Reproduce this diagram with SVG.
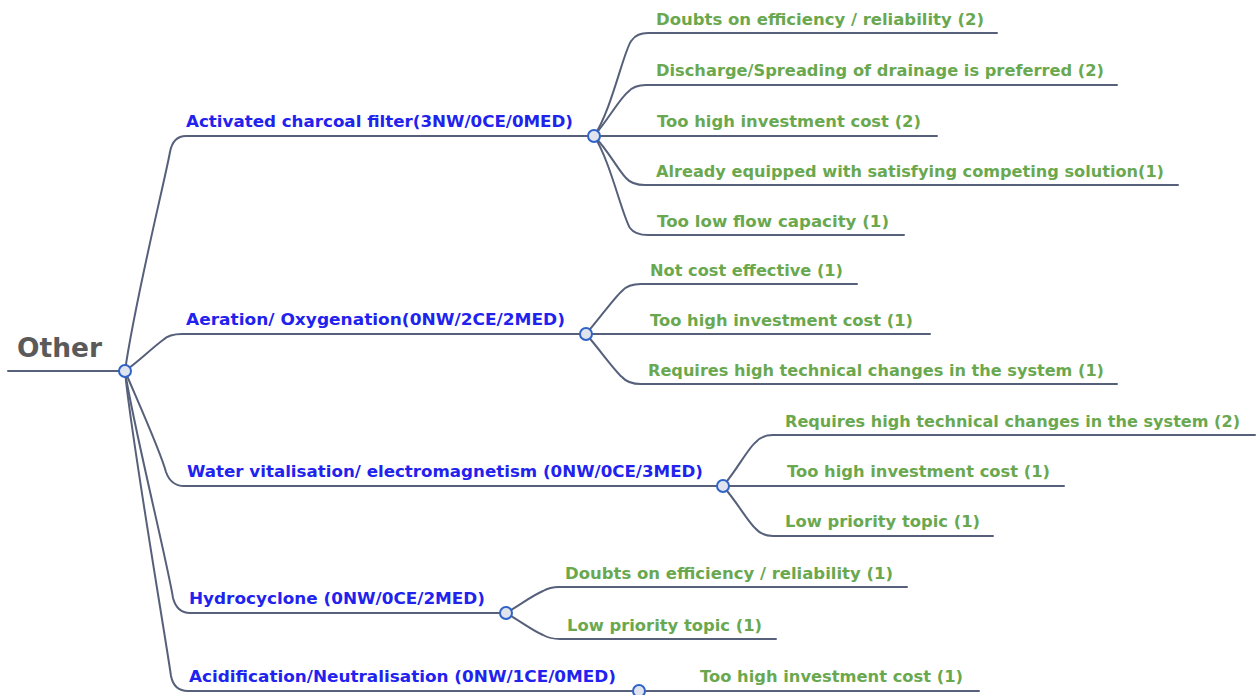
<svg xmlns="http://www.w3.org/2000/svg" width="1257" height="695" viewBox="0 0 1257 695">
  <style>
    .link { fill: none; stroke: #56607a; stroke-width: 2; stroke-linecap: round; }
    .hub { fill: #dfe4ee; stroke: #2f63c8; stroke-width: 2; }
    .root { font-family: "DejaVu Sans", Verdana, sans-serif; font-weight: bold; font-size: 26px; fill: #5a5a5a; }
    .topic { font-family: "DejaVu Sans", Verdana, sans-serif; font-weight: bold; font-size: 15px; fill: #2222ee; }
    .leaf { font-family: "DejaVu Sans", Verdana, sans-serif; font-weight: bold; font-size: 15px; fill: #6aa84f; }
  </style>
  <rect width="1257" height="695" fill="#ffffff"/>

  <!-- connectors -->
  <g id="connectors">
    <!-- root underline -->
    <path class="link" d="M8,371 L125,371"/>
    <!-- root to main topics -->
    <path class="link" d="M125,371 C135,300 165,180 170,152 Q173,136 186,136 L594,136"/>
    <path class="link" d="M125,371 C138,362 152,348 163,340 Q169,334 182,334 L586,334"/>
    <path class="link" d="M125,371 C135,395 160,450 166,472 Q171,486 184,486 L723,486"/>
    <path class="link" d="M125,371 C132,420 168,565 173,598 Q177,613 190,613 L506,613"/>
    <path class="link" d="M125,371 C130,430 166,640 171,676 Q174,691 188,691 L639,691"/>

    <!-- Activated charcoal filter children -->
    <path class="link" d="M594,136 C612,110 625,45 632,40 Q637,33 648,33 L997,33"/>
    <path class="link" d="M594,136 C608,120 620,98 628,92 Q634,85 646,85 L1117,85"/>
    <path class="link" d="M594,136 L937,136"/>
    <path class="link" d="M594,136 C608,150 618,170 626,178 Q632,185 645,185 L1178,185"/>
    <path class="link" d="M594,136 C610,160 622,215 630,228 Q635,235 648,235 L904,235"/>

    <!-- Aeration / Oxygenation children -->
    <path class="link" d="M586,334 C600,318 614,298 622,291 Q628,284 641,284 L857,284"/>
    <path class="link" d="M586,334 L930,334"/>
    <path class="link" d="M586,334 C600,350 614,370 622,377 Q628,384 641,384 L1117,384"/>

    <!-- Water vitalisation children -->
    <path class="link" d="M723,486 C737,470 748,448 756,442 Q762,435 773,435 L1255,435"/>
    <path class="link" d="M723,486 L1064,486"/>
    <path class="link" d="M723,486 C737,502 748,522 756,529 Q762,536 773,536 L993,536"/>

    <!-- Hydrocyclone children -->
    <path class="link" d="M506,613 C520,605 533,595 543,591 Q550,587 559,587 L907,587"/>
    <path class="link" d="M506,613 C520,621 533,631 543,635 Q550,639 560,639 L776,639"/>

    <!-- Acidification child -->
    <path class="link" d="M639,691 L979,691"/>
  </g>

  <!-- central topic -->
  <g id="node-root">
    <text class="root" x="17" y="357" textLength="85" lengthAdjust="spacingAndGlyphs">Other</text>
    <circle class="hub" cx="125" cy="371" r="6"/>
  </g>

  <!-- main topics -->
  <g id="node-charcoal">
    <text class="topic" x="186" y="127" textLength="387" lengthAdjust="spacingAndGlyphs">Activated charcoal filter(3NW/0CE/0MED)</text>
    <circle class="hub" cx="594" cy="136" r="6"/>
  </g>
  <g id="node-aeration">
    <text class="topic" x="186" y="325" textLength="379" lengthAdjust="spacingAndGlyphs">Aeration/ Oxygenation(0NW/2CE/2MED)</text>
    <circle class="hub" cx="586" cy="334" r="6"/>
  </g>
  <g id="node-water">
    <text class="topic" x="187" y="477" textLength="516" lengthAdjust="spacingAndGlyphs">Water vitalisation/ electromagnetism (0NW/0CE/3MED)</text>
    <circle class="hub" cx="723" cy="486" r="6"/>
  </g>
  <g id="node-hydrocyclone">
    <text class="topic" x="189" y="604" textLength="296" lengthAdjust="spacingAndGlyphs">Hydrocyclone (0NW/0CE/2MED)</text>
    <circle class="hub" cx="506" cy="613" r="6"/>
  </g>
  <g id="node-acidification">
    <text class="topic" x="189" y="682" textLength="427" lengthAdjust="spacingAndGlyphs">Acidification/Neutralisation (0NW/1CE/0MED)</text>
    <circle class="hub" cx="639" cy="691" r="6"/>
  </g>

  <!-- sub topics: Activated charcoal filter -->
  <g id="node-charcoal-1"><text class="leaf" x="656" y="25" textLength="328" lengthAdjust="spacingAndGlyphs">Doubts on efficiency / reliability (2)</text></g>
  <g id="node-charcoal-2"><text class="leaf" x="656" y="76" textLength="448" lengthAdjust="spacingAndGlyphs">Discharge/Spreading of drainage is preferred (2)</text></g>
  <g id="node-charcoal-3"><text class="leaf" x="657" y="127" textLength="264" lengthAdjust="spacingAndGlyphs">Too high investment cost (2)</text></g>
  <g id="node-charcoal-4"><text class="leaf" x="656" y="177" textLength="508" lengthAdjust="spacingAndGlyphs">Already equipped with satisfying competing solution(1)</text></g>
  <g id="node-charcoal-5"><text class="leaf" x="657" y="227" textLength="232" lengthAdjust="spacingAndGlyphs">Too low flow capacity (1)</text></g>

  <!-- sub topics: Aeration / Oxygenation -->
  <g id="node-aeration-1"><text class="leaf" x="650" y="276" textLength="193" lengthAdjust="spacingAndGlyphs">Not cost effective (1)</text></g>
  <g id="node-aeration-2"><text class="leaf" x="650" y="326" textLength="263" lengthAdjust="spacingAndGlyphs">Too high investment cost (1)</text></g>
  <g id="node-aeration-3"><text class="leaf" x="648" y="376" textLength="456" lengthAdjust="spacingAndGlyphs">Requires high technical changes in the system (1)</text></g>

  <!-- sub topics: Water vitalisation -->
  <g id="node-water-1"><text class="leaf" x="785" y="427" textLength="455" lengthAdjust="spacingAndGlyphs">Requires high technical changes in the system (2)</text></g>
  <g id="node-water-2"><text class="leaf" x="787" y="477" textLength="263" lengthAdjust="spacingAndGlyphs">Too high investment cost (1)</text></g>
  <g id="node-water-3"><text class="leaf" x="785" y="527" textLength="195" lengthAdjust="spacingAndGlyphs">Low priority topic (1)</text></g>

  <!-- sub topics: Hydrocyclone -->
  <g id="node-hydrocyclone-1"><text class="leaf" x="565" y="579" textLength="328" lengthAdjust="spacingAndGlyphs">Doubts on efficiency / reliability (1)</text></g>
  <g id="node-hydrocyclone-2"><text class="leaf" x="567" y="631" textLength="195" lengthAdjust="spacingAndGlyphs">Low priority topic (1)</text></g>

  <!-- sub topic: Acidification -->
  <g id="node-acidification-1"><text class="leaf" x="700" y="682" textLength="263" lengthAdjust="spacingAndGlyphs">Too high investment cost (1)</text></g>
</svg>
